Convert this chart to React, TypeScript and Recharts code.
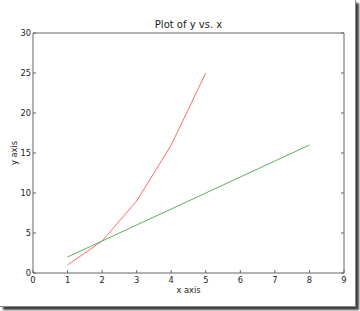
import React from "react";
import { LineChart, Line, XAxis, YAxis, Label } from "recharts";

const redX = [1, 2, 3, 4, 5];
const redY = [1, 4, 9, 16, 25];
const greenX = [1, 2, 3, 4, 5, 6, 7, 8];
const greenY = [2, 4, 6, 8, 10, 12, 14, 16];
const xTicks = [0, 1, 2, 3, 4, 5, 6, 7, 8, 9];
const yTicks = [0, 5, 10, 15, 20, 25, 30];
const title = "Plot of y vs. x";
const xLabel = "x axis";
const yLabel = "y axis";

const redData = redX.map((x, i) => ({ x, y: redY[i] }));
const greenData = greenX.map((x, i) => ({ x, y: greenY[i] }));

const FONT = "DejaVu Sans";
const AXIS = "#666";
const TEXT = "#222";
const TL = 3;

const BottomTick = (p: any) => (
  <g>
    <line x1={p.x} y1={p.y} x2={p.x} y2={p.y - TL} stroke={AXIS} />
    <text x={p.x} y={p.y + 9.5} textAnchor="middle" fontSize={8.3} fontFamily={FONT} fill={TEXT}>
      {p.payload.value}
    </text>
  </g>
);
const TopTick = (p: any) => (
  <line x1={p.x} y1={p.y} x2={p.x} y2={p.y + TL} stroke={AXIS} />
);
const LeftTick = (p: any) => (
  <g>
    <line x1={p.x} y1={p.y} x2={p.x + TL} y2={p.y} stroke={AXIS} />
    <text x={p.x - 2} y={p.y + 3} textAnchor="end" fontSize={8.3} fontFamily={FONT} fill={TEXT}>
      {p.payload.value}
    </text>
  </g>
);
const RightTick = (p: any) => (
  <line x1={p.x} y1={p.y} x2={p.x - TL} y2={p.y} stroke={AXIS} />
);

export default function App() {
  return (
    <div style={{ position: "absolute", left: 0, top: 0, width: 360, height: 311, background: "#fff", overflow: "hidden" }}>
      <div
        style={{
          position: "absolute",
          left: 0,
          top: 0,
          width: 355,
          height: 306,
          background: "#fff",
          borderRight: "1px solid #888",
          borderBottom: "1px solid #888",
          boxShadow: "3px 3px 2px rgba(0,0,0,0.75)",
        }}
      />
      <div style={{ position: "absolute", left: 0, top: 0 }}>
        <LineChart width={360} height={311} margin={{ top: 23, right: 6, bottom: 8, left: 8 }}>
          <XAxis
            xAxisId="bottom"
            dataKey="x"
            type="number"
            domain={[0, 9]}
            ticks={xTicks}
            allowDataOverflow
            height={30}
            tickSize={0}
            tickMargin={0}
            tickLine={false}
            axisLine={{ stroke: AXIS }}
            tick={BottomTick}
            interval={0}
          >
            <Label
              content={(props: any) => {
                const vb = props.viewBox || { x: 33, y: 273, width: 311 };
                return (
                  <text x={vb.x + vb.width / 2} y={vb.y + 20} textAnchor="middle" fontSize={8.3} fontFamily={FONT} fill={TEXT}>
                    {xLabel}
                  </text>
                );
              }}
            />
          </XAxis>
          <XAxis
            xAxisId="top"
            orientation="top"
            type="number"
            domain={[0, 9]}
            ticks={xTicks}
            allowDataOverflow
            height={10}
            tickSize={0}
            tickMargin={0}
            tickLine={false}
            axisLine={{ stroke: AXIS }}
            tick={TopTick}
            interval={0}
          >
            <Label
              content={(props: any) => {
                const vb = props.viewBox || { x: 33, y: 23, width: 311, height: 10 };
                return (
                  <text x={vb.x + vb.width / 2} y={vb.y + 4.5} textAnchor="middle" fontSize={10} fontFamily={FONT} fill={TEXT}>
                    {title}
                  </text>
                );
              }}
            />
          </XAxis>
          <YAxis
            yAxisId="left"
            type="number"
            domain={[0, 30]}
            ticks={yTicks}
            allowDataOverflow
            width={25}
            tickSize={0}
            tickMargin={0}
            tickLine={false}
            axisLine={{ stroke: AXIS }}
            tick={LeftTick}
            interval={0}
          >
            <Label
              content={(props: any) => {
                const vb = props.viewBox || { x: 8, y: 33, width: 25, height: 240 };
                const cx = 17;
                const cy = vb.y + vb.height / 2;
                return (
                  <text x={cx} y={cy} transform={`rotate(-90, ${cx}, ${cy})`} textAnchor="middle" fontSize={8.3} fontFamily={FONT} fill={TEXT}>
                    {yLabel}
                  </text>
                );
              }}
            />
          </YAxis>
          <YAxis
            yAxisId="right"
            orientation="right"
            type="number"
            domain={[0, 30]}
            ticks={yTicks}
            allowDataOverflow
            width={10}
            tickSize={0}
            tickMargin={0}
            tickLine={false}
            axisLine={{ stroke: AXIS }}
            tick={RightTick}
            interval={0}
          />
          <Line
            data={redData}
            xAxisId="bottom"
            yAxisId="left"
            dataKey="y"
            type="linear"
            stroke="#ff6b6b"
            strokeWidth={1}
            dot={false}
            activeDot={false}
            isAnimationActive={false}
          />
          <Line
            data={greenData}
            xAxisId="bottom"
            yAxisId="left"
            dataKey="y"
            type="linear"
            stroke="#5fae5f"
            strokeWidth={1}
            dot={false}
            activeDot={false}
            isAnimationActive={false}
          />
        </LineChart>
      </div>
    </div>
  );
}
